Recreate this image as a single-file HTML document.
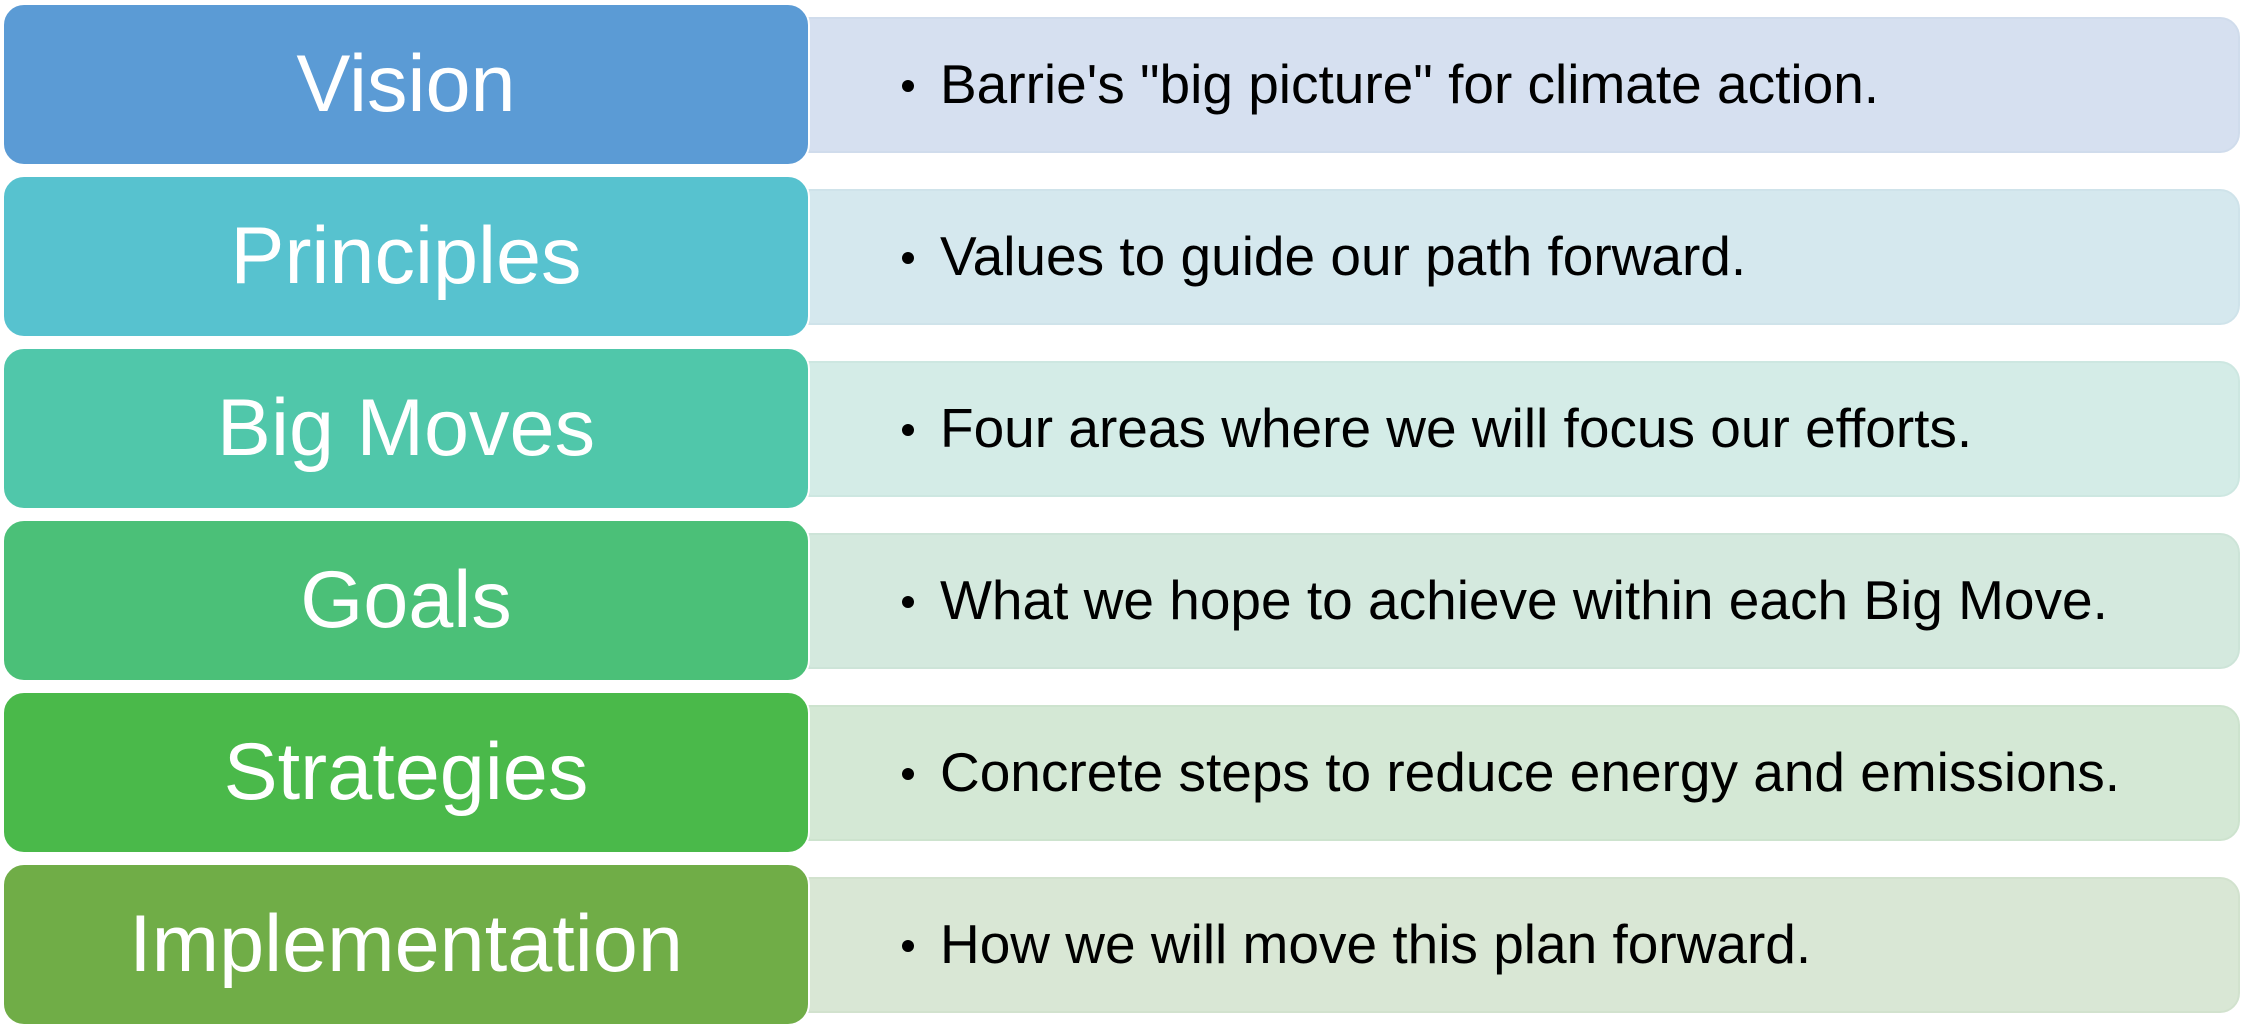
<!DOCTYPE html>
<html><head><meta charset="utf-8"><style>
body{margin:0;width:2241px;height:1035px;background:#fff;position:relative;overflow:hidden;font-family:"Liberation Sans",Arial,sans-serif;}
.l{position:absolute;left:2px;width:804px;height:159px;border-radius:22px;color:#fff;font-size:81px;text-align:center;line-height:159px;border:2px solid #fff;box-sizing:content-box;margin-top:-2px}
.r{position:absolute;left:808px;width:1432px;height:136px;border-radius:0 20px 20px 0;box-sizing:border-box;}
.r span{position:absolute;left:130px;top:-3px;font-size:55px;line-height:136px;color:#000;white-space:nowrap}
.r b{position:absolute;left:92px;top:61px;width:12px;height:12px;border-radius:50%;background:#000}
</style></head><body>
<div class="r" style="top:17px;background:#d6e0f0;border:2px solid #d0dcec"><b></b><span>Barrie's "big picture" for climate action.</span></div>
<div class="r" style="top:189px;background:#d5e8ee;border:2px solid #cfe3ea"><b></b><span>Values to guide our path forward.</span></div>
<div class="r" style="top:361px;background:#d4ece7;border:2px solid #cde7e1"><b></b><span>Four areas where we will focus our efforts.</span></div>
<div class="r" style="top:533px;background:#d4e9de;border:2px solid #cde4d8"><b></b><span>What we hope to achieve within each Big Move.</span></div>
<div class="r" style="top:705px;background:#d4e8d5;border:2px solid #cde3ce"><b></b><span>Concrete steps to reduce energy and emissions.</span></div>
<div class="r" style="top:877px;background:#d9e7d5;border:2px solid #d2e2ce"><b></b><span>How we will move this plan forward.</span></div>
<div class="l" style="top:5px;background:#5b9bd5">Vision</div>
<div class="l" style="top:177px;background:#57c2cf">Principles</div>
<div class="l" style="top:349px;background:#50c7aa">Big Moves</div>
<div class="l" style="top:521px;background:#4bc078">Goals</div>
<div class="l" style="top:693px;background:#4ab94a">Strategies</div>
<div class="l" style="top:865px;background:#70ad47">Implementation</div>
</body></html>
